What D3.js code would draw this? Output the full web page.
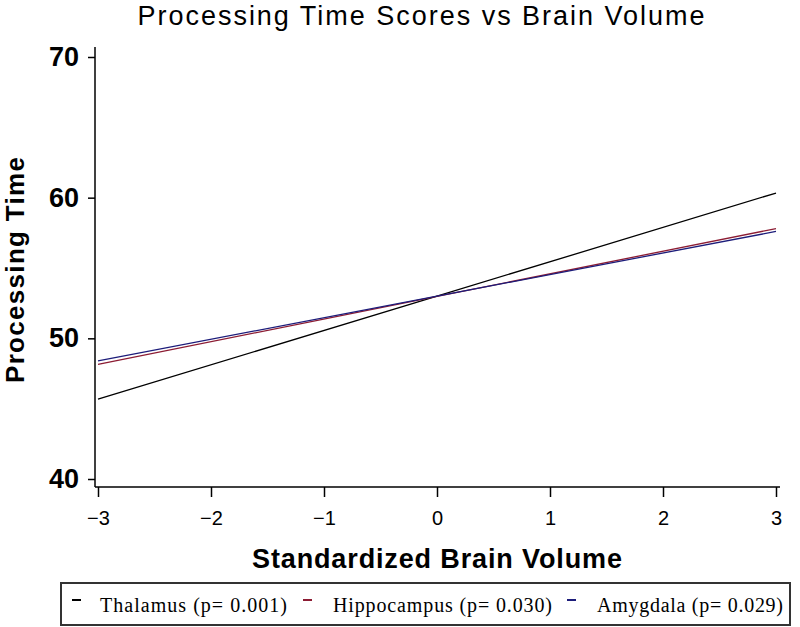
<!DOCTYPE html>
<html>
<head>
<meta charset="utf-8">
<script src="https://cdn.jsdelivr.net/npm/d3@7"></script>
<style>
  body { margin: 0; background: #fff; }
  svg { display: block; }
</style>
</head>
<body>
<div id="chart"></div>
<script>
// data
var xValues = [-3, 0, 3];
var thalamus = [45.67, 53.0, 60.33];
var hippocampus = [48.15, 52.98, 57.8];
var amygdala = [48.4, 53.0, 57.6];
var xTicks = [-3, -2, -1, 0, 1, 2, 3];
var yTicks = [40, 50, 60, 70];
var seriesNames = ["Thalamus (p= 0.001)", "Hippocampus (p= 0.030)", "Amygdala (p= 0.029)"];
var seriesColors = ["#000000", "#8c1c33", "#1c1c7a"];

var svgWidth = 800;
var svgHeight = 627;

var svg = d3.select("#chart")
  .append("svg")
  .attr("width", svgWidth)
  .attr("height", svgHeight);

var xScale = d3.scaleLinear().domain([-3, 3]).range([98, 776]);
var yScale = d3.scaleLinear().domain([40, 70]).range([479, 57]);

var axisX = 95;
var axisY = 487;

// title
svg.append("text")
  .attr("x", 421)
  .attr("y", 25)
  .attr("text-anchor", "middle")
  .attr("textLength", 567)
  .attr("lengthAdjust", "spacing")
  .style("font-family", "Liberation Sans, Arial, sans-serif")
  .style("font-size", "27px")
  .text("Processing Time Scores vs Brain Volume");

// y axis
var leftAxis = d3.axisLeft(yScale)
  .tickValues(yTicks)
  .tickSize(7)
  .tickPadding(9)
  .tickSizeOuter(0);

var yAxisG = svg.append("g")
  .attr("transform", `translate(${axisX}, 0)`)
  .call(leftAxis);
yAxisG.select(".domain").remove();
yAxisG.append("line")
  .attr("x1", 0).attr("x2", 0)
  .attr("y1", 47).attr("y2", axisY)
  .attr("stroke", "#000").attr("stroke-width", 1.5);
yAxisG.selectAll(".tick line").attr("stroke-width", 1.5);
yAxisG.selectAll(".tick text")
  .style("font-family", "Liberation Sans, Arial, sans-serif")
  .style("font-size", "27px")
  .style("font-weight", "bold")
  .attr("fill", "#000");

// x axis
var bottomAxis = d3.axisBottom(xScale)
  .tickValues(xTicks)
  .tickSize(10)
  .tickPadding(14)
  .tickSizeOuter(0)
  .tickFormat(d => d < 0 ? "\u2212" + Math.abs(d) : d);

var xAxisG = svg.append("g")
  .attr("transform", `translate(0, ${axisY})`)
  .call(bottomAxis);
xAxisG.select(".domain").remove();
xAxisG.append("line")
  .attr("x1", axisX).attr("x2", 780)
  .attr("y1", 0).attr("y2", 0)
  .attr("stroke", "#000").attr("stroke-width", 1.5);
xAxisG.selectAll(".tick line").attr("stroke-width", 1.5);
xAxisG.selectAll(".tick text")
  .style("font-family", "Liberation Sans, Arial, sans-serif")
  .style("font-size", "20px")
  .attr("fill", "#000");

// axis labels
svg.append("text")
  .attr("transform", "translate(24, 270) rotate(-90)")
  .attr("text-anchor", "middle")
  .attr("textLength", 226)
  .attr("lengthAdjust", "spacing")
  .style("font-family", "Liberation Sans, Arial, sans-serif")
  .style("font-size", "26px")
  .style("font-weight", "bold")
  .text("Processing Time");

svg.append("text")
  .attr("x", 437)
  .attr("y", 568)
  .attr("text-anchor", "middle")
  .attr("textLength", 370)
  .attr("lengthAdjust", "spacing")
  .style("font-family", "Liberation Sans, Arial, sans-serif")
  .style("font-size", "27px")
  .style("font-weight", "bold")
  .text("Standardized Brain Volume");

// lines
var allSeries = [thalamus, hippocampus, amygdala];
var line = d3.line()
  .x((d, i) => xScale(xValues[i]))
  .y(d => yScale(d));

svg.append("g")
  .selectAll("path")
  .data(allSeries)
  .enter()
  .append("path")
  .attr("d", d => line(d))
  .attr("fill", "none")
  .attr("stroke", (d, i) => seriesColors[i])
  .attr("stroke-width", 1.3);

// legend
var legend = svg.append("g");
legend.append("rect")
  .attr("x", 61).attr("y", 583)
  .attr("width", 729).attr("height", 42)
  .attr("fill", "none")
  .attr("stroke", "#333")
  .attr("stroke-width", 2);

var legendX = [72, 303, 567];
var legendTextX = [100, 333, 597];
var legendLen = [187, 219, 186];

var items = legend.selectAll(".item")
  .data(seriesNames)
  .enter()
  .append("g")
  .attr("class", "item");

items.append("line")
  .attr("x1", (d, i) => legendX[i])
  .attr("x2", (d, i) => legendX[i] + 9)
  .attr("y1", 600).attr("y2", 600)
  .attr("stroke", (d, i) => seriesColors[i])
  .attr("stroke-width", 2);

items.append("text")
  .attr("x", (d, i) => legendTextX[i])
  .attr("y", 612)
  .attr("textLength", (d, i) => legendLen[i])
  .attr("lengthAdjust", "spacing")
  .style("font-family", "Liberation Serif, Times New Roman, serif")
  .style("font-size", "20px")
  .text(d => d);
</script>
</body>
</html>
